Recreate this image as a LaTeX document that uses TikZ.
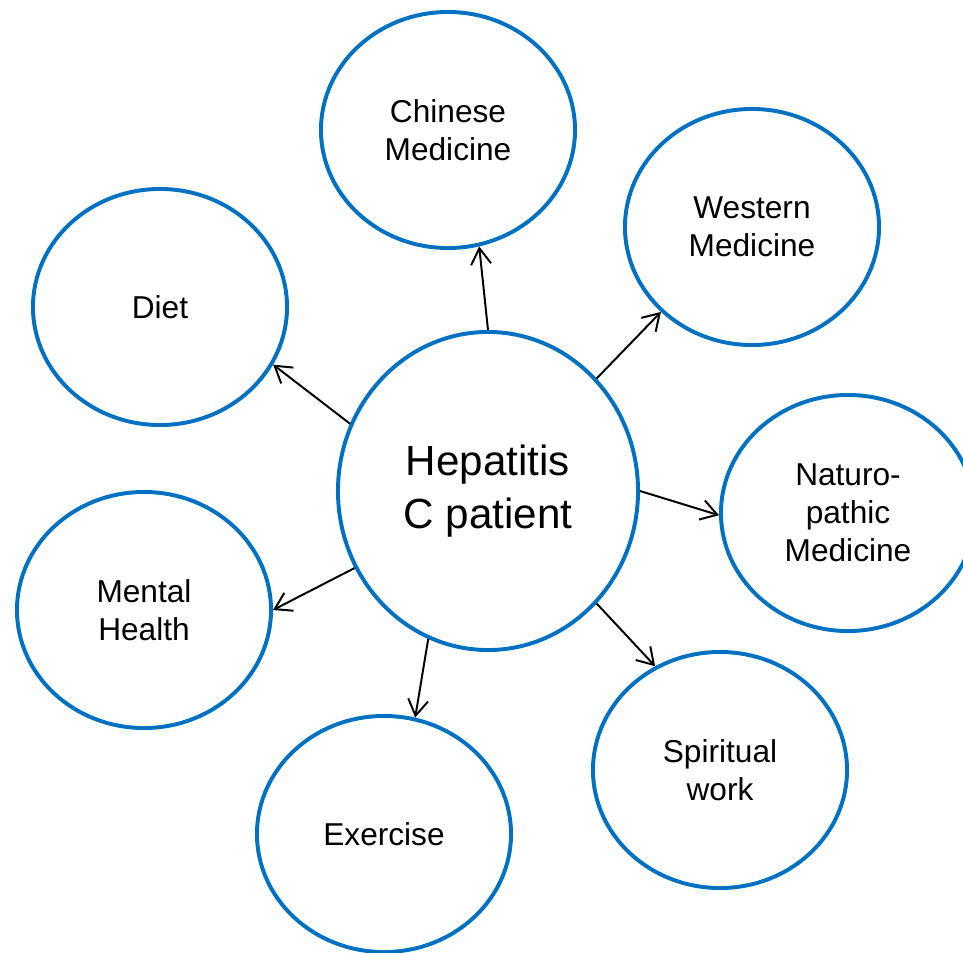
\documentclass[tikz,border=0pt]{standalone}
\usepackage{fontspec}
\setmainfont{Liberation Sans}
\usetikzlibrary{positioning,arrows.meta,shapes.geometric}
\definecolor{ringblue}{RGB}{0,112,192}
\tikzset{
  >={Straight Barb[length=4mm,width=5mm]},
  hub/.style={ellipse,draw=ringblue,line width=2.8pt,minimum width=7.5cm,
    minimum height=7.95cm,inner sep=1pt,align=center,
    font=\fontsize{30}{37.5}\selectfont},
  topic/.style={ellipse,draw=ringblue,line width=2.8pt,minimum width=6.35cm,
    minimum height=5.9cm,inner sep=1pt,align=center,
    font=\fontsize{22.5}{27}\selectfont},
  spoke/.style={->,line width=1.4pt,black},
}
\begin{document}
\begin{tikzpicture}[x=0.025cm,y=-0.025cm]
  \useasboundingbox (0,0) rectangle (963,953);
  \node[hub] (hcv) at (488,491) {Hepatitis\\C patient};
  \node[topic] (chin) at (448,130) {Chinese\\Medicine};
  \node[topic] (west) at (752,227) {Western\\Medicine};
  \node[topic] (diet) at (160,307) {Diet};
  \node[topic] (natu) at (848,513) {Naturo-\\pathic\\Medicine};
  \node[topic] (ment) at (144,610) {Mental\\Health};
  \node[topic] (exer) at (384,834) {Exercise};
  \node[topic] (spir) at (720,770) {Spiritual\\work};
  \draw[spoke] (hcv.90) -- (chin.285);
  \draw[spoke] (hcv.46) -- (west.223);
  \draw[spoke] (hcv.154) -- (diet.333);
  \draw[spoke] (hcv.0) -- (natu.181);
  \draw[spoke] (hcv.210) -- (ment.0);
  \draw[spoke] (hcv.248) -- (exer.75);
  \draw[spoke] (hcv.314) -- (spir.122);
\end{tikzpicture}
\end{document}
